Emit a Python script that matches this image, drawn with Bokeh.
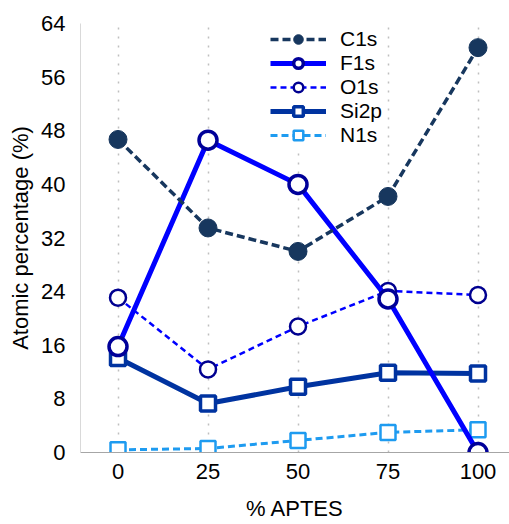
from bokeh.plotting import figure
from bokeh.models import Range1d, FixedTicker, Legend, LegendItem, ColumnDataSource
from bokeh.embed import file_html
from bokeh.resources import INLINE

aptes = [0, 25, 50, 75, 100]
c1s = [46.7, 33.5, 30.0, 38.2, 60.4]
f1s = [15.8, 46.6, 40.0, 22.9, 0.0]
o1s = [23.1, 12.4, 18.8, 24.1, 23.5]
si2p = [14.1, 7.3, 9.8, 11.9, 11.8]
n1s = [0.4, 0.6, 1.8, 3.0, 3.4]
y_ticks = [0, 8, 16, 24, 32, 40, 48, 56, 64]

FONT = "Liberation Sans"

p = figure(width=509, height=524, output_backend="svg", toolbar_location=None,
           x_range=Range1d(-10.42, 108.75), y_range=Range1d(0, 64),
           min_border_left=80, min_border_right=0, min_border_top=23, min_border_bottom=72)
p.outline_line_color = None
p.background_fill_color = "white"

p.xaxis.ticker = FixedTicker(ticks=aptes)
p.yaxis.ticker = FixedTicker(ticks=y_ticks)
for ax in (p.xaxis[0], p.yaxis[0]):
    ax.axis_line_color = "#A6A6A6"
    ax.axis_line_width = 1
    ax.major_tick_line_color = None
    ax.minor_tick_line_color = None
    ax.major_label_text_font = FONT
    ax.major_label_text_font_size = "22px"
    ax.major_label_text_color = "#000000"
    ax.axis_label_text_font = FONT
    ax.axis_label_text_font_size = "22px"
    ax.axis_label_text_font_style = "normal"
    ax.axis_label_text_color = "#000000"
p.yaxis.axis_line_color = "#D9D9D9"
p.xaxis.axis_label = "% APTES"
p.yaxis.axis_label = "Atomic percentage (%)"
p.xaxis.major_label_standoff = 5
p.yaxis.major_label_standoff = 9
p.xaxis.axis_label_standoff = 14
p.yaxis.axis_label_standoff = 5

p.xgrid.grid_line_color = "#BFBFBF"
p.xgrid.grid_line_dash = "2 7"
p.xgrid.grid_line_width = 1.5
p.ygrid.grid_line_color = None

def series(y, color, lw, dash, marker, size, fill, mline, mlw):
    src = ColumnDataSource(dict(x=aptes, y=y))
    l = p.line("x", "y", source=src, line_color=color, line_width=lw, line_dash=dash)
    s = p.scatter("x", "y", source=src, marker=marker, size=size, fill_color=fill,
                  line_color=mline, line_width=mlw)
    return [l, s]

r_n = series(n1s, "#1E9BF0", 3, "7 4", "square", 15, "white", "#1E9BF0", 2.5)
r_si = series(si2p, "#0033A0", 5, "solid", "square", 15, "white", "#0033A0", 3.5)
r_o = series(o1s, "#0000FF", 2.5, "6 4", "circle", 16, "white", "#000090", 2.5)
r_f = series(f1s, "#0000FF", 5, "solid", "circle", 18, "white", "#000099", 3.5)
r_c = series(c1s, "#17375E", 3.5, "8 4", "circle", 18, "#17375E", "#17375E", 1)

legend = Legend(items=[
    LegendItem(label="C1s", renderers=r_c),
    LegendItem(label="F1s", renderers=r_f),
    LegendItem(label="O1s", renderers=r_o),
    LegendItem(label="Si2p", renderers=r_si),
    LegendItem(label="N1s", renderers=r_n),
], location=(190, 305))
legend.padding = 0
legend.margin = 0
legend.spacing = 0
legend.glyph_width = 56
legend.glyph_height = 24
legend.label_height = 24
legend.label_standoff = 14
legend.label_text_font = FONT
legend.label_text_font_size = "21px"
legend.label_text_color = "#000000"
legend.border_line_color = None
legend.background_fill_color = "white"
legend.background_fill_alpha = 1.0
p.add_layout(legend, "center")

open("out.html", "w").write(file_html(p, INLINE))
